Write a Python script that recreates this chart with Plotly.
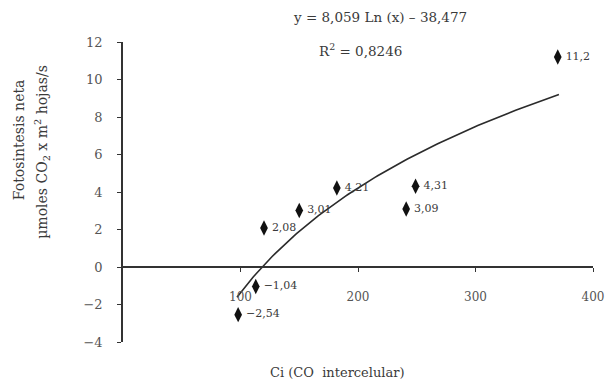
import numpy as np
import plotly.graph_objects as go

# Measured points: intercellular CO2 (Ci) vs net photosynthesis
ci = [98, 113, 120, 150, 182, 241, 249, 370]
fotosintesis = [-2.54, -1.04, 2.08, 3.01, 4.21, 3.09, 4.31, 11.2]
etiquetas = ["−2,54", "−1,04", "2,08", "3,01", "4,21", "3,09", "4,31", "11,2"]

# Logarithmic trendline coefficients (y = a Ln(x) + b)
coef_a = 8.059
coef_b = -38.477
r2_text = "0,8246"

x_ticks = [100, 200, 300, 400]
y_ticks = [-4, -2, 0, 2, 4, 6, 8, 10, 12]
x_range = [0, 400]
y_range = [-4, 12]

FONT = "DejaVu Serif"
INK = "#3a3a3a"

x_fit = np.linspace(min(ci) - 1, max(ci) + 1, 120)
y_fit = coef_a * np.log(x_fit) + coef_b

fig = go.Figure()
fig.add_trace(go.Scatter(
    x=x_fit, y=y_fit, mode="lines",
    line=dict(color="#2b2b2b", width=1.6),
    hoverinfo="skip", showlegend=False,
))
fig.add_trace(go.Scatter(
    x=ci, y=fotosintesis, mode="markers+text",
    marker=dict(symbol="diamond-tall", size=11, color="#111111"),
    text=etiquetas, textposition="middle right",
    textfont=dict(family=FONT, size=11, color=INK),
    cliponaxis=False, showlegend=False,
))

fig.update_layout(
    width=616, height=386,
    margin=dict(l=123, r=13, t=42, b=44),
    paper_bgcolor="white", plot_bgcolor="white",
    font=dict(family=FONT, size=12, color=INK),
    xaxis=dict(
        range=x_range, tickvals=x_ticks, ticktext=[str(v) for v in x_ticks],
        showgrid=False, zeroline=False,
        showline=True, linecolor="#333333", linewidth=1.5,
        ticks="outside", ticklen=4, tickcolor="#333333",
        anchor="free",
        position=(0 - y_range[0]) / (y_range[1] - y_range[0]),
        ticklabelstandoff=15,
        tickfont=dict(family=FONT, size=12, color="#555555"),
    ),
    yaxis=dict(
        range=y_range, tickvals=y_ticks,
        ticktext=[("−" + str(-v)) if v < 0 else str(v) for v in y_ticks],
        showgrid=False, zeroline=False,
        showline=True, linecolor="#333333", linewidth=1.5,
        ticks="outside", ticklen=4, tickcolor="#333333",
        ticklabelstandoff=12,
        tickfont=dict(family=FONT, size=13, color="#555555"),
    ),
    annotations=[
        dict(text="y = 8,059 Ln (x) – 38,477", x=385, y=17, xref="paper", yref="paper",
             showarrow=False, font=dict(family=FONT, size=13.5, color=INK)),
        dict(text="R<sup>2</sup> = " + r2_text, x=366, y=50, xref="paper", yref="paper",
             showarrow=False, font=dict(family=FONT, size=13.5, color=INK)),
        dict(text="Ci (CO\u00a0 intercelular)", x=342, y=372, xref="paper", yref="paper",
             showarrow=False, font=dict(family=FONT, size=13, color=INK)),
        dict(text="Fotosintesis neta", x=17, y=140, xref="paper", yref="paper",
             showarrow=False, textangle=-90, font=dict(family=FONT, size=14, color=INK)),
        dict(text="µmoles CO<sub>2</sub> x m<sup>2</sup> hojas/s", x=40, y=152,
             xref="paper", yref="paper",
             showarrow=False, textangle=-90, font=dict(family=FONT, size=14, color=INK)),
    ],
)

# Annotation coordinates above are given in pixels; convert to paper fractions
W, H = 616, 386
ml, mr, mt, mb = 123, 13, 42, 44
pw, ph = W - ml - mr, H - mt - mb
for ann in fig.layout.annotations:
    px, py = ann.x, ann.y
    ann.x = (px - ml) / pw
    ann.y = 1 - (py - mt) / ph
    ann.xanchor = "center"
    ann.yanchor = "middle"

fig.write_html("out.html")
